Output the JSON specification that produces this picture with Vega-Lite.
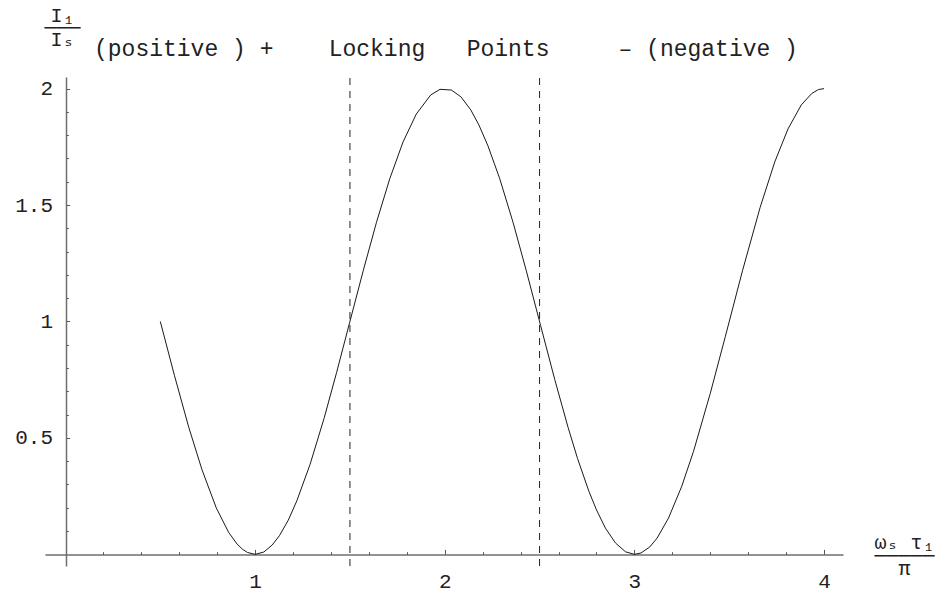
{
  "$schema": "https://vega.github.io/schema/vega-lite/v6.json",
  "width": 798,
  "height": 489,
  "autosize": {"type": "none"},
  "padding": {"left": 45, "top": 77, "right": 96, "bottom": 28},
  "background": "white",
  "config": {
    "view": {"stroke": null},
    "font": "Liberation Mono",
    "axis": {"grid": false}
  },
  "title": {
    "text": "(positive ) +\u00a0\u00a0\u00a0\u00a0Locking\u00a0\u00a0\u00a0Points\u00a0\u00a0\u00a0\u00a0\u00a0–\u00a0(negative )",
    "anchor": "start",
    "frame": "group",
    "font": "Liberation Mono",
    "fontSize": 23,
    "fontWeight": "normal",
    "color": "#222222",
    "baseline": "alphabetic",
    "dx": 49,
    "offset": -74
  },
  "layer": [
    {
      "data": {
        "values": [
          {"x": 0.5, "y": 1.0},
          {"x": 0.575, "y": 0.767},
          {"x": 0.65, "y": 0.546},
          {"x": 0.72, "y": 0.363},
          {"x": 0.795, "y": 0.2},
          {"x": 0.86, "y": 0.095},
          {"x": 0.905, "y": 0.044},
          {"x": 0.935, "y": 0.021},
          {"x": 0.96, "y": 0.008},
          {"x": 1.0, "y": 0.0},
          {"x": 1.046, "y": 0.01},
          {"x": 1.09, "y": 0.04},
          {"x": 1.128, "y": 0.08},
          {"x": 1.175, "y": 0.147},
          {"x": 1.22, "y": 0.23},
          {"x": 1.29, "y": 0.387},
          {"x": 1.365, "y": 0.588},
          {"x": 1.43, "y": 0.782},
          {"x": 1.498, "y": 0.994},
          {"x": 1.57, "y": 1.218},
          {"x": 1.64, "y": 1.426},
          {"x": 1.71, "y": 1.613},
          {"x": 1.78, "y": 1.771},
          {"x": 1.85, "y": 1.891},
          {"x": 1.926, "y": 1.973},
          {"x": 1.975, "y": 1.997},
          {"x": 2.035, "y": 1.994},
          {"x": 2.085, "y": 1.965},
          {"x": 2.137, "y": 1.909},
          {"x": 2.18, "y": 1.844},
          {"x": 2.228, "y": 1.754},
          {"x": 2.29, "y": 1.613},
          {"x": 2.36, "y": 1.426},
          {"x": 2.43, "y": 1.218},
          {"x": 2.505, "y": 0.984},
          {"x": 2.58, "y": 0.751},
          {"x": 2.65, "y": 0.546},
          {"x": 2.7, "y": 0.412},
          {"x": 2.76, "y": 0.271},
          {"x": 2.8, "y": 0.191},
          {"x": 2.847, "y": 0.113},
          {"x": 2.9, "y": 0.049},
          {"x": 2.953, "y": 0.011},
          {"x": 3.0, "y": 0.0},
          {"x": 3.035, "y": 0.006},
          {"x": 3.08, "y": 0.031},
          {"x": 3.12, "y": 0.07},
          {"x": 3.18, "y": 0.156},
          {"x": 3.25, "y": 0.293},
          {"x": 3.312, "y": 0.443},
          {"x": 3.4, "y": 0.691},
          {"x": 3.48, "y": 0.937},
          {"x": 3.57, "y": 1.218},
          {"x": 3.663, "y": 1.49},
          {"x": 3.74, "y": 1.685},
          {"x": 3.81, "y": 1.827},
          {"x": 3.88, "y": 1.93},
          {"x": 3.935, "y": 1.979},
          {"x": 3.97, "y": 1.996},
          {"x": 4.0, "y": 2.0}
        ]
      },
      "mark": {"type": "line", "color": "#1a1a1a", "strokeWidth": 1},
      "encoding": {
        "x": {
          "field": "x",
          "type": "quantitative",
          "scale": {"domain": [-0.108, 4.1], "nice": false, "zero": false},
          "axis": {
            "orient": "bottom",
            "offset": -11.6,
            "values": [1, 2, 3, 4],
            "format": "d",
            "tickSize": -5,
            "tickColor": "#555555",
            "tickWidth": 1,
            "domainColor": "#6e6e6e",
            "domainWidth": 1.5,
            "labelFont": "Liberation Mono",
            "labelFontSize": 21,
            "labelColor": "#222222",
            "labelPadding": 21,
            "title": ["ωₛ τ₁", "─────", "π"],
            "titleFont": "Liberation Mono, DejaVu Sans Mono",
            "titleFontSize": 20,
            "titleFontWeight": "normal",
            "titleColor": "#222222",
            "titleAlign": "center",
            "titleBaseline": "alphabetic",
            "titleLineHeight": 13,
            "titleX": 859,
            "titleY": -6
          }
        },
        "y": {
          "field": "y",
          "type": "quantitative",
          "scale": {"domain": [-0.05, 2.05], "nice": false, "zero": false},
          "axis": {
            "orient": "left",
            "offset": -21,
            "values": [0.5, 1, 1.5, 2],
            "format": "~g",
            "tickSize": -3.5,
            "tickColor": "#555555",
            "tickWidth": 1,
            "domainColor": "#6e6e6e",
            "domainWidth": 1.5,
            "labelFont": "Liberation Mono",
            "labelFontSize": 21,
            "labelColor": "#222222",
            "labelPadding": 17,
            "title": ["I₁", "───", "Iₛ"],
            "titleAngle": 0,
            "titleFont": "Liberation Mono, DejaVu Sans Mono",
            "titleFontSize": 20,
            "titleFontWeight": "normal",
            "titleColor": "#222222",
            "titleAlign": "center",
            "titleBaseline": "alphabetic",
            "titleLineHeight": 12,
            "titleX": -4,
            "titleY": -56
          }
        }
      }
    },
    {
      "data": {"values": [{"x": 1.5}, {"x": 2.5}]},
      "mark": {"type": "rule", "color": "#222222", "strokeWidth": 1, "strokeDash": [7, 6]},
      "encoding": {
        "x": {
          "field": "x",
          "type": "quantitative",
          "axis": {
            "orient": "bottom",
            "offset": -11.6,
            "values": [0.2, 0.4, 0.6, 0.8, 1.2, 1.4, 1.6, 1.8, 2.2, 2.4, 2.6, 2.8, 3.2, 3.4, 3.6, 3.8],
            "labels": false,
            "domain": false,
            "tickSize": -2.7,
            "tickColor": "#555555",
            "tickWidth": 1,
            "title": null
          }
        },
        "y": {
          "datum": -0.05,
          "type": "quantitative",
          "axis": {
            "orient": "left",
            "offset": -21,
            "values": [0.1, 0.2, 0.3, 0.4, 0.6, 0.7, 0.8, 0.9, 1.1, 1.2, 1.3, 1.4, 1.6, 1.7, 1.8, 1.9],
            "labels": false,
            "domain": false,
            "tickSize": -2.3,
            "tickColor": "#555555",
            "tickWidth": 1,
            "title": null
          }
        },
        "y2": {"datum": 2.05}
      }
    }
  ],
  "resolve": {"axis": {"x": "independent", "y": "independent"}}
}
